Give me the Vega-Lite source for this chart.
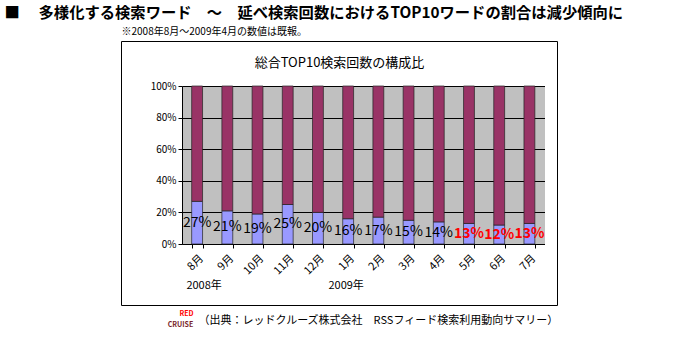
{
  "$schema": "https://vega.github.io/schema/vega-lite/v6.json",
  "width": 436,
  "height": 264,
  "autosize": {"type": "none"},
  "padding": {"left": 121, "top": 41, "right": 126, "bottom": 37},
  "background": "white",
  "config": {
    "font": "Noto Sans CJK JP",
    "view": {"stroke": "#000", "strokeWidth": 1, "fill": "white"},
    "axis": {"labelColor": "#000", "titleColor": "#000", "domainColor": "#000", "tickColor": "#000", "labelFont": "Noto Sans CJK JP", "titleFont": "Noto Sans CJK JP"}
  },
  "data": {
    "values": [
      {"month": "8月", "year": "2008年", "series": "TOP10ワード", "share": 0.27, "status": "既報"},
      {"month": "8月", "year": "2008年", "series": "その他", "share": 0.73, "status": "既報"},
      {"month": "9月", "year": "2008年", "series": "TOP10ワード", "share": 0.21, "status": "既報"},
      {"month": "9月", "year": "2008年", "series": "その他", "share": 0.79, "status": "既報"},
      {"month": "10月", "year": "2008年", "series": "TOP10ワード", "share": 0.19, "status": "既報"},
      {"month": "10月", "year": "2008年", "series": "その他", "share": 0.81, "status": "既報"},
      {"month": "11月", "year": "2008年", "series": "TOP10ワード", "share": 0.25, "status": "既報"},
      {"month": "11月", "year": "2008年", "series": "その他", "share": 0.75, "status": "既報"},
      {"month": "12月", "year": "2008年", "series": "TOP10ワード", "share": 0.20, "status": "既報"},
      {"month": "12月", "year": "2008年", "series": "その他", "share": 0.80, "status": "既報"},
      {"month": "1月", "year": "2009年", "series": "TOP10ワード", "share": 0.16, "status": "既報"},
      {"month": "1月", "year": "2009年", "series": "その他", "share": 0.84, "status": "既報"},
      {"month": "2月", "year": "2009年", "series": "TOP10ワード", "share": 0.17, "status": "既報"},
      {"month": "2月", "year": "2009年", "series": "その他", "share": 0.83, "status": "既報"},
      {"month": "3月", "year": "2009年", "series": "TOP10ワード", "share": 0.15, "status": "既報"},
      {"month": "3月", "year": "2009年", "series": "その他", "share": 0.85, "status": "既報"},
      {"month": "4月", "year": "2009年", "series": "TOP10ワード", "share": 0.14, "status": "既報"},
      {"month": "4月", "year": "2009年", "series": "その他", "share": 0.86, "status": "既報"},
      {"month": "5月", "year": "2009年", "series": "TOP10ワード", "share": 0.13, "status": "新規"},
      {"month": "5月", "year": "2009年", "series": "その他", "share": 0.87, "status": "新規"},
      {"month": "6月", "year": "2009年", "series": "TOP10ワード", "share": 0.12, "status": "新規"},
      {"month": "6月", "year": "2009年", "series": "その他", "share": 0.88, "status": "新規"},
      {"month": "7月", "year": "2009年", "series": "TOP10ワード", "share": 0.13, "status": "新規"},
      {"month": "7月", "year": "2009年", "series": "その他", "share": 0.87, "status": "新規"}
    ]
  },
  "layer": [
    {
      "mark": {"type": "bar", "stroke": "#222", "strokeWidth": 0.7},
      "encoding": {
        "x": {
          "field": "month", "type": "nominal", "sort": null,
          "scale": {"domain": ["8月","9月","10月","11月","12月","1月","2月","3月","4月","5月","6月","7月"], "range": [61, 423.5], "paddingInner": 0.64, "paddingOuter": 0.32},
          "axis": {
            "orient": "bottom", "offset": -61, "labelAngle": -45, "labelFontSize": 11, "labelPadding": 4,
            "tickSize": 4, "tickBand": "extent", "domain": true, "grid": false,
            "title": "（出典：レッドクルーズ株式会社　RSSフィード検索利用動向サマリー）",
            "titleX": 77, "titleY": 76, "titleAlign": "left", "titleBaseline": "middle", "titleFontSize": 11, "titleFontWeight": "normal"
          }
        },
        "y": {
          "field": "share", "type": "quantitative", "stack": "normalize",
          "scale": {"domain": [0, 1], "range": [203, 45], "nice": false},
          "axis": {
            "orient": "left", "offset": -61, "values": [0, 0.2, 0.4, 0.5, 0.6, 0.8, 1],
            "labelExpr": "datum.value === 0.5 ? '' : format(datum.value, '.0%')",
            "labelFontSize": 10, "labelPadding": 2, "tickSize": 4,
            "tickColor": {"condition": {"test": "datum.value === 0.5", "value": "transparent"}, "value": "#000"},
            "grid": true, "gridColor": "#C0C0C0",
            "gridWidth": {"condition": {"test": "datum.value === 0.5", "value": 158}, "value": 0},
            "gridOpacity": {"condition": {"test": "datum.value === 0.5", "value": 1}, "value": 0},
            "domain": true,
            "title": "■　 多様化する検索ワード　～　延べ検索回数におけるTOP10ワードの割合は減少傾向に",
            "titleAngle": 0, "titleX": -178, "titleY": -29, "titleAlign": "left", "titleBaseline": "middle",
            "titleFontSize": 15.3, "titleFontWeight": "bold"
          }
        },
        "color": {
          "field": "series", "type": "nominal",
          "scale": {"domain": ["TOP10ワード", "その他"], "range": ["#9999FF", "#993366"]},
          "legend": null
        },
        "order": {"field": "series", "type": "nominal", "sort": "ascending"}
      }
    },
    {
      "transform": [{"filter": "datum.series === 'TOP10ワード' && datum.status === '既報'"}],
      "mark": {"type": "text", "fontSize": 14, "color": "#000", "baseline": "middle", "align": "center"},
      "encoding": {
        "x": {
          "field": "month", "type": "nominal", "sort": null,
          "axis": {
            "orient": "bottom", "offset": -61, "values": ["8月", "1月"],
            "labelExpr": "datum.value === '8月' ? '2008年' : '2009年'",
            "labelAngle": 0, "labelFontSize": 11, "labelPadding": 35, "labelBaseline": "top",
            "labelOffset": {"condition": {"test": "datum.value === '8月'", "value": 7}, "value": -2},
            "ticks": false, "tickSize": 0, "domain": false, "grid": false,
            "title": "総合TOP10検索回数の構成比",
            "titleX": 218, "titleY": -182, "titleAlign": "center", "titleBaseline": "middle", "titleFontSize": 13, "titleFontWeight": "normal"
          }
        },
        "y": {
          "field": "share", "type": "quantitative",
          "scale": {"domain": [0, 2], "range": [203, 45], "nice": false},
          "axis": {
            "orient": "left", "offset": 0, "values": [0, 0.4, 0.8, 1.2, 1.6, 2],
            "grid": true, "gridColor": "#000", "gridWidth": 1, "labels": false, "ticks": false, "domain": false,
            "title": "RED", "titleAngle": 0, "titleX": 65, "titleY": 272, "titleAlign": "center", "titleBaseline": "middle",
            "titleFontSize": 7, "titleFontWeight": "bold", "titleColor": "#FF0000"
          }
        },
        "text": {"field": "share", "type": "quantitative", "format": ".0%"}
      }
    },
    {
      "transform": [{"filter": "datum.series === 'TOP10ワード' && datum.status === '新規'"}],
      "mark": {"type": "text", "fontSize": 14, "fontWeight": "bold", "color": "#FF0000", "baseline": "middle", "align": "center"},
      "encoding": {
        "x": {
          "field": "month", "type": "nominal", "sort": null,
          "axis": {
            "orient": "top", "offset": 0, "labels": false, "ticks": false, "domain": false, "grid": false,
            "title": "※2008年8月～2009年4月の数値は既報。",
            "titleX": 0, "titleY": -10, "titleAlign": "left", "titleBaseline": "middle", "titleFontSize": 10, "titleFontWeight": "normal"
          }
        },
        "y": {
          "field": "share", "type": "quantitative",
          "scale": {"domain": [0, 2], "range": [203, 45], "nice": false},
          "axis": {
            "orient": "left", "grid": false, "labels": false, "ticks": false, "domain": false,
            "title": "CRUISE", "titleAngle": 0, "titleX": 59, "titleY": 283, "titleAlign": "center", "titleBaseline": "middle",
            "titleFontSize": 7, "titleFontWeight": "bold", "titleColor": "#7A1F2B"
          }
        },
        "text": {"field": "share", "type": "quantitative", "format": ".0%"}
      }
    }
  ],
  "resolve": {
    "scale": {"y": "independent"},
    "axis": {"x": "independent", "y": "independent"}
  }
}
